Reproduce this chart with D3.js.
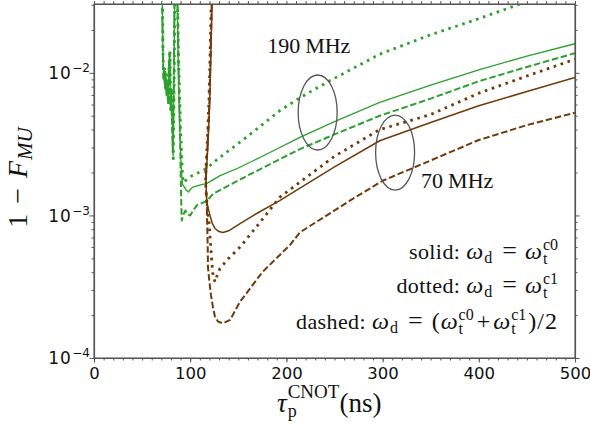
<!DOCTYPE html>
<html><head><meta charset="utf-8">
<script src="https://cdn.jsdelivr.net/npm/d3@7"></script>
<style>body{margin:0;background:#fff}svg{display:block}</style>
</head><body>
<svg id="c" width="590" height="429"></svg>
<script>
// ---------- data ----------
const xTicks = [0, 100, 200, 300, 400, 500];
const yTicks = [1e-4, 1e-3, 1e-2];
const yTickExp = ["−4", "−3", "−2"];
const greenColor = "#2ca02c";
const brownColor = "#703a08";

const greenSolid = [[70.8,0.045],[71.6,0.014],[72.4,0.0092],[73.2,0.0105],[74.0,0.0080],[74.8,0.0095],[75.6,0.0072],[76.4,0.0085],[77.2,0.0064],[78.0,0.0120],[78.8,0.0140],[79.6,0.0058],[80.4,0.0075],[81.2,0.0050],[82.2,0.0026],[83.0,0.0070],[84.0,0.045],[86.2,0.045],[87.5,0.012],[89.0,0.0045],[90.5,0.0022],[92.0,0.00165],[94,0.00158],[96,0.00150],[98,0.00146],[100,0.00152],[103,0.00158],[108,0.00162],[113,0.00165],[117,0.00167],[131,0.0019],[150,0.00215],[175,0.0026],[214,0.00353],[250,0.00455],[297,0.0062],[350,0.0082],[400,0.0105],[450,0.0131],[500,0.0160]];
const greenDashed = [[70.5,0.045],[71.4,0.016],[72.2,0.0088],[73.0,0.0098],[73.8,0.0078],[74.6,0.0090],[75.4,0.0068],[76.2,0.0080],[77.0,0.0060],[77.8,0.0110],[78.6,0.0135],[79.4,0.0055],[80.2,0.0068],[81.0,0.0048],[82.0,0.0028],[82.8,0.0065],[83.8,0.045],[86.5,0.045],[88,0.010],[89.5,0.0035],[90.5,0.0014],[91.2,0.00092],[92.5,0.0010],[94,0.00105],[95,0.00108],[97,0.00102],[100,0.00100],[103,0.00108],[107,0.00118],[112,0.00122],[117,0.00126],[124,0.00142],[160,0.00191],[214,0.00292],[250,0.0037],[297,0.0050],[350,0.0066],[400,0.00873],[450,0.0110],[500,0.01375]];
const greenDotted = [[71.0,0.045],[71.8,0.013],[72.6,0.0095],[73.4,0.0110],[74.2,0.0083],[75.0,0.0098],[75.8,0.0075],[76.6,0.0088],[77.4,0.0067],[78.2,0.0125],[79.0,0.0145],[79.8,0.0060],[80.6,0.0078],[81.4,0.0052],[82.4,0.0025],[83.2,0.0072],[84.2,0.045],[86.4,0.045],[88,0.012],[90,0.004],[92,0.0019],[93,0.0017],[95,0.00175],[98,0.00182],[102,0.0019],[107,0.00197],[117,0.00213],[129,0.0025],[160,0.0036],[193,0.00542],[214,0.00669],[245,0.00879],[297,0.01352],[350,0.0185],[400,0.024],[443,0.0304],[500,0.039]];

const brownSolid = [[123.1,0.035],[122.6,0.028],[121.9,0.018],[121.2,0.011],[120.4,0.0064],[119.3,0.0042],[118.1,0.00285],[117.0,0.0021],[116.5,0.00176],[116.7,0.0015],[117.2,0.00127],[118.5,0.00113],[120.6,0.00100],[123,0.00088],[125.8,0.00081],[130,0.00077],[134,0.00076],[140,0.00078],[151.8,0.000875],[170,0.00104],[193,0.00127],[250,0.00219],[297,0.00334],[350,0.00449],[400,0.00587],[450,0.0074],[500,0.00927]];
const brownDotted = [[122.2,0.035],[121.7,0.028],[121.1,0.018],[120.4,0.011],[119.5,0.0064],[118.5,0.0042],[117.3,0.00285],[116.3,0.0021],[116.0,0.00176],[116.4,0.0015],[117.2,0.00127],[118.5,0.00105],[119.5,0.00092],[120.5,0.00072],[121.6,0.00057],[122.7,0.00045],[123.7,0.00038],[125.8,0.000342],[128,0.00038],[131,0.000425],[140,0.0005],[151.8,0.0006],[170,0.00085],[193,0.00134],[250,0.0026],[297,0.0040],[350,0.0051],[400,0.0072],[450,0.0095],[500,0.01247]];
const brownDashed = [[122.7,0.035],[122.2,0.028],[121.6,0.018],[120.8,0.011],[120.0,0.0064],[118.9,0.0042],[117.7,0.00285],[116.6,0.0021],[116.2,0.00176],[116.5,0.0015],[117.2,0.00127],[117.5,0.00095],[117.8,0.000785],[118.2,0.0006],[118.5,0.000433],[120,0.00034],[121.6,0.000276],[123.5,0.00023],[125.8,0.000194],[129,0.00018],[134.1,0.000175],[141.4,0.000185],[151.8,0.000248],[175,0.0004],[203.7,0.00062],[214,0.00076],[266,0.00127],[300,0.00175],[350,0.00243],[400,0.00338],[450,0.0043],[500,0.00525]];

// annotations (data coords)
const ellipseCenters = [[232.5, 0.00527], [313, 0.00276]];
const ellipseLabels = ["190 MHz", "70 MHz"];
const ellipseLabelPos = [[180, 0.0138], [340, 0.00156]];

// ---------- layout ----------
const svg = d3.select("#c");
const L = 94, R = 575, T = 4, B = 358;
const x = d3.scaleLinear().domain([0, 500]).range([L, R]);
const y = d3.scaleLog().domain([1e-4, 0.0304]).range([B, T]);
const axisCol = "#555";

svg.append("defs").append("clipPath").attr("id","clip")
  .append("rect").attr("x",L).attr("y",T).attr("width",R-L).attr("height",B-T);

function rich(parent, px, py, parts, opt) {
  opt = opt || {};
  const g = parent.append("g");
  const inner = g.append("g");
  let cx = 0, prevStart = 0;
  parts.forEach(p => {
    const start = (p.stack ? prevStart : cx) + (p.dx || 0);
    const t = inner.append("text").attr("x", start).attr("y", p.dy || 0)
      .attr("font-family", opt.family || "Liberation Serif")
      .attr("font-size", p.size).attr("fill", opt.fill || "#111")
      .attr("letter-spacing", p.ls || 0)
      .attr("font-style", p.it ? "italic" : "normal").text(p.t);
    const w = t.node().getComputedTextLength();
    if (p.stack) cx = Math.max(cx, start + w);
    else { prevStart = start; cx = start + w; }
  });
  const off = opt.anchor === "end" ? -cx : opt.anchor === "middle" ? -cx / 2 : 0;
  inner.attr("transform", `translate(${off},0)`);
  g.attr("transform", `translate(${px},${py})` + (opt.rotate ? ` rotate(${opt.rotate})` : ""));
  return g;
}

// ---------- axes ----------
const minorX = d3.range(0, 501, 10);
const minorY = [];
[1e-4, 1e-3, 1e-2].forEach(d => { for (let k = 2; k <= 9; k++) if (d*k <= 0.0304) minorY.push(d*k); });

function styleAxis(g) {
  g.selectAll("path").attr("stroke", axisCol).attr("stroke-width", 1.1);
  g.selectAll("line").attr("stroke", axisCol).attr("stroke-width", 1);
}
svg.append("g").attr("transform", `translate(0,${B})`)
  .call(d3.axisBottom(x).tickValues(minorX).tickSize(2.5).tickSizeOuter(0).tickFormat(""))
  .call(styleAxis);
const bx = svg.append("g").attr("transform", `translate(0,${B})`)
  .call(d3.axisBottom(x).tickValues(xTicks).tickSize(4.5).tickSizeOuter(0).tickPadding(5))
  .call(styleAxis);
bx.selectAll("text").attr("font-family", "DejaVu Sans").attr("font-size", 16.5).attr("fill", "#111").attr("dy", "0.72em");
svg.append("g").attr("transform", `translate(0,${T})`)
  .call(d3.axisTop(x).tickValues(minorX).tickSize(3).tickSizeOuter(0).tickFormat(""))
  .call(styleAxis);
svg.append("g").attr("transform", `translate(${L},0)`)
  .call(d3.axisLeft(y).tickValues(minorY).tickSize(2.5).tickSizeOuter(0).tickFormat(""))
  .call(styleAxis);
svg.append("g").attr("transform", `translate(${L},0)`)
  .call(d3.axisLeft(y).tickValues(yTicks).tickSize(4.5).tickSizeOuter(0).tickFormat(""))
  .call(styleAxis);
svg.append("g").attr("transform", `translate(${R},0)`)
  .call(d3.axisRight(y).tickValues(minorY).tickSize(2.5).tickSizeOuter(0).tickFormat(""))
  .call(styleAxis);
svg.append("g").attr("transform", `translate(${R},0)`)
  .call(d3.axisRight(y).tickValues(yTicks).tickSize(4.5).tickSizeOuter(0).tickFormat(""))
  .call(styleAxis);

yTicks.forEach((v, i) => {
  rich(svg, 90, y(v) + 6.3, [
    {t: "10", size: 17, ls: 1},
    {t: yTickExp[i], size: 12, dy: -7, dx: 0.5}
  ], {anchor: "end", family: "DejaVu Sans"});
});

// ---------- lines ----------
const line = d3.line().x(d => x(d[0])).y(d => y(d[1]));
const plot = svg.append("g").attr("clip-path", "url(#clip)");
const series = [
  {d: greenSolid, c: greenColor, w: 1.3, dash: null},
  {d: greenDashed, c: greenColor, w: 2, dash: "6.5,2.8"},
  {d: greenDotted, c: greenColor, w: 2.8, dash: "2.6,4.7"},
  {d: brownSolid, c: brownColor, w: 1.5, dash: null},
  {d: brownDotted, c: brownColor, w: 2.8, dash: "2.6,4.7"},
  {d: brownDashed, c: brownColor, w: 2, dash: "6.5,2.8"}
];
series.forEach(s => {
  plot.append("path").attr("d", line(s.d)).attr("fill", "none")
    .attr("stroke", s.c).attr("stroke-width", s.w)
    .attr("stroke-dasharray", s.dash).attr("stroke-linejoin", "round");
});

svg.append("rect").attr("x", L).attr("y", T).attr("width", R-L).attr("height", B-T)
  .attr("fill", "none").attr("stroke", axisCol).attr("stroke-width", 1.1);

// ---------- annotations ----------
ellipseCenters.forEach(c => {
  svg.append("ellipse").attr("cx", x(c[0])).attr("cy", y(c[1])).attr("rx", 19.5).attr("ry", 37.5)
    .attr("fill", "none").attr("stroke", "#555").attr("stroke-width", 1.3);
});
ellipseLabels.forEach((s, i) => {
  const parts = s.split(" ");
  rich(svg, x(ellipseLabelPos[i][0]), y(ellipseLabelPos[i][1]), [
    {t: parts[0], size: 22}, {t: parts[1], size: 22, dx: 5}
  ], {});
});

// legend texts
const lz = 22, mz = 24, sz = 16;
function lhs(word) {
  return [
    {t: word, size: lz, ls: 0.4}, {t: "ω", size: mz, it: true, dx: 6},
    {t: "d", size: sz, dy: 4, dx: 1}, {t: "=", size: 26, dx: 10}
  ];
}
rich(svg, 558, 259, lhs("solid:").concat([
  {t: "ω", size: mz, it: true, dx: 8},
  {t: "t", size: sz, dy: 5, dx: 1}, {t: "c0", size: sz, dy: -9, stack: true}
]), {anchor: "end"});
rich(svg, 558, 293, lhs("dotted:").concat([
  {t: "ω", size: mz, it: true, dx: 8},
  {t: "t", size: sz, dy: 5, dx: 1}, {t: "c1", size: sz, dy: -9, stack: true}
]), {anchor: "end"});
rich(svg, 558, 328.5, lhs("dashed:").concat([
  {t: "(", size: mz, dx: 9},
  {t: "ω", size: mz, it: true, dx: 1},
  {t: "t", size: sz, dy: 5, dx: 1}, {t: "c0", size: sz, dy: -9, stack: true},
  {t: "+", size: mz, dx: 3},
  {t: "ω", size: mz, it: true, dx: 3},
  {t: "t", size: sz, dy: 5, dx: 1}, {t: "c1", size: sz, dy: -9, stack: true},
  {t: ")/2", size: mz, dx: 2, ls: 1}
]), {anchor: "end"});

// axis labels
rich(svg, 277, 412, [
  {t: "τ", size: 27, it: true},
  {t: "p", size: 18, dy: 5, dx: 1}, {t: "CNOT", size: 19, dy: -14, stack: true},
  {t: "(ns)", size: 27}
], {});
rich(svg, 27, 177.5, [
  {t: "1", size: 28}, {t: "−", size: 28, dx: 10},
  {t: "F", size: 28, it: true, dx: 10},
  {t: "MU", size: 21, it: true, dy: 5, dx: 1}
], {anchor: "middle", rotate: -90});
</script>
</body></html>
